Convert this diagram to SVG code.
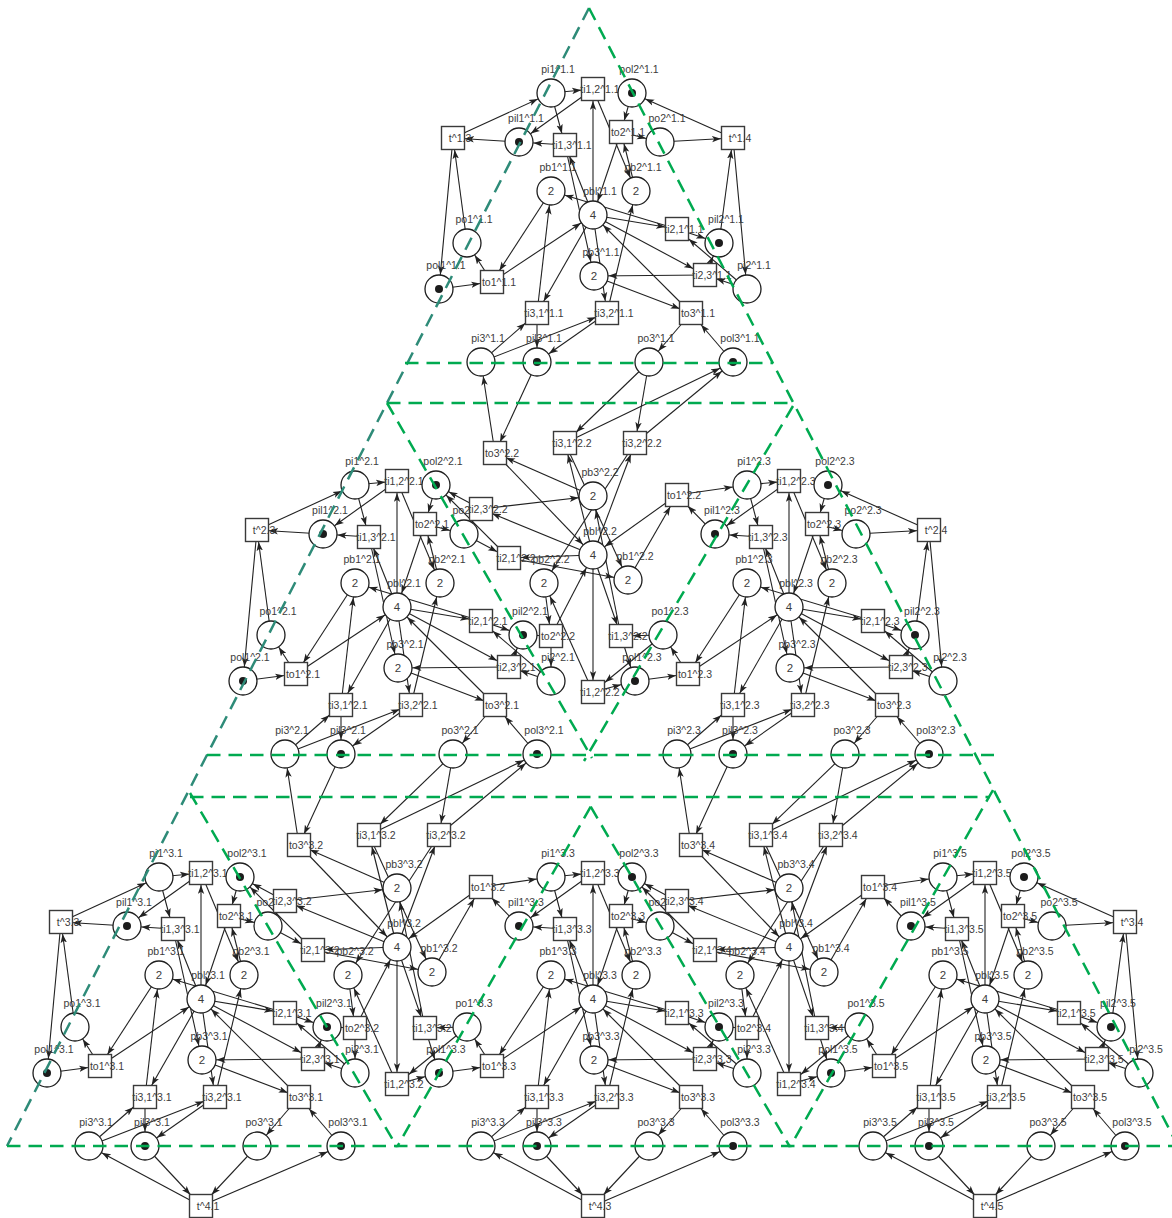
<svg xmlns="http://www.w3.org/2000/svg" width="1172" height="1218" viewBox="0 0 1172 1218">
<style>
text{font:10.5px "Liberation Sans",Arial,sans-serif;fill:#3c3c3c;text-anchor:middle}
.n circle{fill:#fff;stroke:#1e1e1e;stroke-width:1.3}
#q{fill:#fff;stroke:#3a3a3a;stroke-width:1.4}
.n circle.k{fill:#1c1c1c;stroke:none}
.pl{transform:translate(7px,-20px)}
.tl{transform:translate(7px,4px)}
.v{font-size:11.5px;transform:translate(0,4px)}
.c path,.s1 path,.s2 path,.s3 path{fill:none;stroke:#222;stroke-width:1.1}
.c{marker-end:url(#mc)}
.s1{marker-end:url(#ms1)}
.s2{marker-end:url(#ms2)}
.s3{marker-end:url(#ms3)}
.dash path{fill:none;stroke:#00aa50;stroke-width:2.5;stroke-dasharray:13.5 8}
.dash path.teal{stroke:#2e8b78}
.h{fill:#222;stroke:none}
</style>
<defs>
<marker id="mc" markerUnits="userSpaceOnUse" markerWidth="9" markerHeight="7" refX="23.5" refY="3.5" orient="auto"><path class="h" d="M0 .3L9 3.5L0 6.7L2.2 3.5z"/></marker>
<marker id="ms1" markerUnits="userSpaceOnUse" markerWidth="9" markerHeight="7" refX="21" refY="3.5" orient="auto"><path class="h" d="M0 .3L9 3.5L0 6.7L2.2 3.5z"/></marker>
<marker id="ms2" markerUnits="userSpaceOnUse" markerWidth="9" markerHeight="7" refX="22.5" refY="3.5" orient="auto"><path class="h" d="M0 .3L9 3.5L0 6.7L2.2 3.5z"/></marker>
<marker id="ms3" markerUnits="userSpaceOnUse" markerWidth="9" markerHeight="7" refX="24.5" refY="3.5" orient="auto"><path class="h" d="M0 .3L9 3.5L0 6.7L2.2 3.5z"/></marker>
<rect id="q" x="-11.5" y="-11.5" width="23" height="23"/>
<g id="up">
<g class="s1"><path d="M551 93L593 89"/><path d="M551 93L565 145"/><path d="M632 93L621 132"/><path d="M636 191L621 132"/><path d="M593 215L593 89"/><path d="M593 215L565 145"/><path d="M439 289L492 282"/><path d="M593 215L677 229"/><path d="M747 289L705 275"/><path d="M593 215L607 313"/><path d="M481 362L607 313"/><path d="M594 276L691 313"/></g>
<g class="s2"><path d="M551 191L492 282"/><path d="M593 215L705 275"/><path d="M593 215L537 313"/></g>
<g class="s3"><path d="M747 289L677 229"/><path d="M481 362L537 313"/><path d="M733 362L691 313"/></g>
<g class="c"><path d="M593 89L519 142"/><path d="M565 145L519 142"/><path d="M621 132L660 142"/><path d="M593 89L636 191"/><path d="M621 132L593 215"/><path d="M537 313L551 191"/><path d="M677 229L551 191"/><path d="M565 145L594 276"/><path d="M705 275L594 276"/><path d="M607 313L636 191"/><path d="M492 282L593 215"/><path d="M492 282L467 243"/><path d="M677 229L719 243"/><path d="M705 275L719 243"/><path d="M691 313L593 215"/><path d="M537 313L537 362"/><path d="M607 313L537 362"/><path d="M691 313L649 362"/></g>
</g>
<g id="inv">
<g class="s1"><path d="M537 362L495 453"/><path d="M649 362L635 443"/><path d="M593 496L495 453"/><path d="M593 555L565 443"/><path d="M593 555L635 443"/><path d="M593 555L481 509"/><path d="M593 555L509 558"/><path d="M523 635L551 636"/><path d="M544 583L551 636"/><path d="M663 635L621 636"/><path d="M593 555L621 636"/><path d="M593 555L593 692"/></g>
<g class="s2"><path d="M628 580L677 495"/><path d="M464 534L481 509"/><path d="M464 534L509 558"/></g>
<g class="s3"><path d="M649 362L565 443"/><path d="M715 534L677 495"/><path d="M663 635L593 692"/></g>
<g class="c"><path d="M495 453L481 362"/><path d="M565 443L733 362"/><path d="M635 443L733 362"/><path d="M495 453L593 555"/><path d="M565 443L628 580"/><path d="M635 443L544 583"/><path d="M677 495L747 485"/><path d="M677 495L593 555"/><path d="M481 509L436 485"/><path d="M481 509L593 496"/><path d="M509 558L436 485"/><path d="M509 558L628 580"/><path d="M551 636L551 681"/><path d="M551 636L593 555"/><path d="M621 636L635 681"/><path d="M621 636L593 496"/><path d="M593 692L635 681"/><path d="M593 692L544 583"/></g>
</g>
<g id="tl"><g class="s1"><path d="M519 142L453 138"/><path d="M467 243L453 138"/></g><g class="c"><path d="M453 138L551 93"/><path d="M453 138L439 289"/></g></g>
<g id="tr"><g class="s1"><path d="M719 243L733 138"/><path d="M660 142L733 138"/></g><g class="c"><path d="M733 138L632 93"/><path d="M733 138L747 289"/></g></g>
<g id="tb"><g class="s3"><path d="M145 1146L201 1206"/><path d="M257 1146L201 1206"/></g><g class="c"><path d="M201 1206L89 1146"/><path d="M201 1206L341 1146"/></g></g>
</defs>
<g id="connectors">
<use href="#up"/><use href="#up" x="-196" y="392"/><use href="#up" x="196" y="392"/><use href="#up" x="-392" y="784"/><use href="#up" y="784"/><use href="#up" x="392" y="784"/>
<use href="#inv"/><use href="#inv" x="-196" y="392"/><use href="#inv" x="196" y="392"/>
<use href="#tl"/><use href="#tl" x="-196" y="392"/><use href="#tl" x="-392" y="784"/>
<use href="#tr"/><use href="#tr" x="196" y="392"/><use href="#tr" x="392" y="784"/>
<use href="#tb"/><use href="#tb" x="392"/><use href="#tb" x="784"/>
</g>
<g id="nodes" class="n">
<g id="module-1.1">
<g id="pi1-1.1" transform="translate(551 93)"><circle r="14"/><text class="pl">pi1^1.1</text></g>
<g id="ti12-1.1" transform="translate(593 89)"><use href="#q"/><text class="tl">ti1,2^1.1</text></g>
<g id="pol2-1.1" transform="translate(632 93)"><circle r="14"/><circle class="k" r="4"/><text class="pl">pol2^1.1</text></g>
<g id="pil1-1.1" transform="translate(519 142)"><circle r="14"/><circle class="k" r="4"/><text class="pl">pil1^1.1</text></g>
<g id="ti13-1.1" transform="translate(565 145)"><use href="#q"/><text class="tl">ti1,3^1.1</text></g>
<g id="to2-1.1" transform="translate(621 132)"><use href="#q"/><text class="tl">to2^1.1</text></g>
<g id="po2-1.1" transform="translate(660 142)"><circle r="14"/><text class="pl">po2^1.1</text></g>
<g id="pb1-1.1" transform="translate(551 191)"><circle r="14"/><text class="v">2</text><text class="pl">pb1^1.1</text></g>
<g id="pb2-1.1" transform="translate(636 191)"><circle r="14"/><text class="v">2</text><text class="pl">pb2^1.1</text></g>
<g id="pbl-1.1" transform="translate(593 215)"><circle r="14"/><text class="v">4</text><text class="pl">pbl^1.1</text></g>
<g id="po1-1.1" transform="translate(467 243)"><circle r="14"/><text class="pl">po1^1.1</text></g>
<g id="pol1-1.1" transform="translate(439 289)"><circle r="14"/><circle class="k" r="4"/><text class="pl">pol1^1.1</text></g>
<g id="to1-1.1" transform="translate(492 282)"><use href="#q"/><text class="tl">to1^1.1</text></g>
<g id="pb3-1.1" transform="translate(594 276)"><circle r="14"/><text class="v">2</text><text class="pl">pb3^1.1</text></g>
<g id="ti21-1.1" transform="translate(677 229)"><use href="#q"/><text class="tl">ti2,1^1.1</text></g>
<g id="pil2-1.1" transform="translate(719 243)"><circle r="14"/><circle class="k" r="4"/><text class="pl">pil2^1.1</text></g>
<g id="ti23-1.1" transform="translate(705 275)"><use href="#q"/><text class="tl">ti2,3^1.1</text></g>
<g id="pi2-1.1" transform="translate(747 289)"><circle r="14"/><text class="pl">pi2^1.1</text></g>
<g id="ti31-1.1" transform="translate(537 313)"><use href="#q"/><text class="tl">ti3,1^1.1</text></g>
<g id="ti32-1.1" transform="translate(607 313)"><use href="#q"/><text class="tl">ti3,2^1.1</text></g>
<g id="to3-1.1" transform="translate(691 313)"><use href="#q"/><text class="tl">to3^1.1</text></g>
<g id="pi3-1.1" transform="translate(481 362)"><circle r="14"/><text class="pl">pi3^1.1</text></g>
<g id="pil3-1.1" transform="translate(537 362)"><circle r="14"/><circle class="k" r="4"/><text class="pl">pil3^1.1</text></g>
<g id="po3-1.1" transform="translate(649 362)"><circle r="14"/><text class="pl">po3^1.1</text></g>
<g id="pol3-1.1" transform="translate(733 362)"><circle r="14"/><circle class="k" r="4"/><text class="pl">pol3^1.1</text></g>
</g>
<g id="module-2.1" transform="translate(-196 392)">
<g id="pi1-2.1" transform="translate(551 93)"><circle r="14"/><text class="pl">pi1^2.1</text></g>
<g id="ti12-2.1" transform="translate(593 89)"><use href="#q"/><text class="tl">ti1,2^2.1</text></g>
<g id="pol2-2.1" transform="translate(632 93)"><circle r="14"/><circle class="k" r="4"/><text class="pl">pol2^2.1</text></g>
<g id="pil1-2.1" transform="translate(519 142)"><circle r="14"/><circle class="k" r="4"/><text class="pl">pil1^2.1</text></g>
<g id="ti13-2.1" transform="translate(565 145)"><use href="#q"/><text class="tl">ti1,3^2.1</text></g>
<g id="to2-2.1" transform="translate(621 132)"><use href="#q"/><text class="tl">to2^2.1</text></g>
<g id="po2-2.1" transform="translate(660 142)"><circle r="14"/><text class="pl">po2^2.1</text></g>
<g id="pb1-2.1" transform="translate(551 191)"><circle r="14"/><text class="v">2</text><text class="pl">pb1^2.1</text></g>
<g id="pb2-2.1" transform="translate(636 191)"><circle r="14"/><text class="v">2</text><text class="pl">pb2^2.1</text></g>
<g id="pbl-2.1" transform="translate(593 215)"><circle r="14"/><text class="v">4</text><text class="pl">pbl^2.1</text></g>
<g id="po1-2.1" transform="translate(467 243)"><circle r="14"/><text class="pl">po1^2.1</text></g>
<g id="pol1-2.1" transform="translate(439 289)"><circle r="14"/><circle class="k" r="4"/><text class="pl">pol1^2.1</text></g>
<g id="to1-2.1" transform="translate(492 282)"><use href="#q"/><text class="tl">to1^2.1</text></g>
<g id="pb3-2.1" transform="translate(594 276)"><circle r="14"/><text class="v">2</text><text class="pl">pb3^2.1</text></g>
<g id="ti21-2.1" transform="translate(677 229)"><use href="#q"/><text class="tl">ti2,1^2.1</text></g>
<g id="pil2-2.1" transform="translate(719 243)"><circle r="14"/><circle class="k" r="4"/><text class="pl">pil2^2.1</text></g>
<g id="ti23-2.1" transform="translate(705 275)"><use href="#q"/><text class="tl">ti2,3^2.1</text></g>
<g id="pi2-2.1" transform="translate(747 289)"><circle r="14"/><text class="pl">pi2^2.1</text></g>
<g id="ti31-2.1" transform="translate(537 313)"><use href="#q"/><text class="tl">ti3,1^2.1</text></g>
<g id="ti32-2.1" transform="translate(607 313)"><use href="#q"/><text class="tl">ti3,2^2.1</text></g>
<g id="to3-2.1" transform="translate(691 313)"><use href="#q"/><text class="tl">to3^2.1</text></g>
<g id="pi3-2.1" transform="translate(481 362)"><circle r="14"/><text class="pl">pi3^2.1</text></g>
<g id="pil3-2.1" transform="translate(537 362)"><circle r="14"/><circle class="k" r="4"/><text class="pl">pil3^2.1</text></g>
<g id="po3-2.1" transform="translate(649 362)"><circle r="14"/><text class="pl">po3^2.1</text></g>
<g id="pol3-2.1" transform="translate(733 362)"><circle r="14"/><circle class="k" r="4"/><text class="pl">pol3^2.1</text></g>
</g>
<g id="module-2.3" transform="translate(196 392)">
<g id="pi1-2.3" transform="translate(551 93)"><circle r="14"/><text class="pl">pi1^2.3</text></g>
<g id="ti12-2.3" transform="translate(593 89)"><use href="#q"/><text class="tl">ti1,2^2.3</text></g>
<g id="pol2-2.3" transform="translate(632 93)"><circle r="14"/><circle class="k" r="4"/><text class="pl">pol2^2.3</text></g>
<g id="pil1-2.3" transform="translate(519 142)"><circle r="14"/><circle class="k" r="4"/><text class="pl">pil1^2.3</text></g>
<g id="ti13-2.3" transform="translate(565 145)"><use href="#q"/><text class="tl">ti1,3^2.3</text></g>
<g id="to2-2.3" transform="translate(621 132)"><use href="#q"/><text class="tl">to2^2.3</text></g>
<g id="po2-2.3" transform="translate(660 142)"><circle r="14"/><text class="pl">po2^2.3</text></g>
<g id="pb1-2.3" transform="translate(551 191)"><circle r="14"/><text class="v">2</text><text class="pl">pb1^2.3</text></g>
<g id="pb2-2.3" transform="translate(636 191)"><circle r="14"/><text class="v">2</text><text class="pl">pb2^2.3</text></g>
<g id="pbl-2.3" transform="translate(593 215)"><circle r="14"/><text class="v">4</text><text class="pl">pbl^2.3</text></g>
<g id="po1-2.3" transform="translate(467 243)"><circle r="14"/><text class="pl">po1^2.3</text></g>
<g id="pol1-2.3" transform="translate(439 289)"><circle r="14"/><circle class="k" r="4"/><text class="pl">pol1^2.3</text></g>
<g id="to1-2.3" transform="translate(492 282)"><use href="#q"/><text class="tl">to1^2.3</text></g>
<g id="pb3-2.3" transform="translate(594 276)"><circle r="14"/><text class="v">2</text><text class="pl">pb3^2.3</text></g>
<g id="ti21-2.3" transform="translate(677 229)"><use href="#q"/><text class="tl">ti2,1^2.3</text></g>
<g id="pil2-2.3" transform="translate(719 243)"><circle r="14"/><circle class="k" r="4"/><text class="pl">pil2^2.3</text></g>
<g id="ti23-2.3" transform="translate(705 275)"><use href="#q"/><text class="tl">ti2,3^2.3</text></g>
<g id="pi2-2.3" transform="translate(747 289)"><circle r="14"/><text class="pl">pi2^2.3</text></g>
<g id="ti31-2.3" transform="translate(537 313)"><use href="#q"/><text class="tl">ti3,1^2.3</text></g>
<g id="ti32-2.3" transform="translate(607 313)"><use href="#q"/><text class="tl">ti3,2^2.3</text></g>
<g id="to3-2.3" transform="translate(691 313)"><use href="#q"/><text class="tl">to3^2.3</text></g>
<g id="pi3-2.3" transform="translate(481 362)"><circle r="14"/><text class="pl">pi3^2.3</text></g>
<g id="pil3-2.3" transform="translate(537 362)"><circle r="14"/><circle class="k" r="4"/><text class="pl">pil3^2.3</text></g>
<g id="po3-2.3" transform="translate(649 362)"><circle r="14"/><text class="pl">po3^2.3</text></g>
<g id="pol3-2.3" transform="translate(733 362)"><circle r="14"/><circle class="k" r="4"/><text class="pl">pol3^2.3</text></g>
</g>
<g id="module-3.1" transform="translate(-392 784)">
<g id="pi1-3.1" transform="translate(551 93)"><circle r="14"/><text class="pl">pi1^3.1</text></g>
<g id="ti12-3.1" transform="translate(593 89)"><use href="#q"/><text class="tl">ti1,2^3.1</text></g>
<g id="pol2-3.1" transform="translate(632 93)"><circle r="14"/><circle class="k" r="4"/><text class="pl">pol2^3.1</text></g>
<g id="pil1-3.1" transform="translate(519 142)"><circle r="14"/><circle class="k" r="4"/><text class="pl">pil1^3.1</text></g>
<g id="ti13-3.1" transform="translate(565 145)"><use href="#q"/><text class="tl">ti1,3^3.1</text></g>
<g id="to2-3.1" transform="translate(621 132)"><use href="#q"/><text class="tl">to2^3.1</text></g>
<g id="po2-3.1" transform="translate(660 142)"><circle r="14"/><text class="pl">po2^3.1</text></g>
<g id="pb1-3.1" transform="translate(551 191)"><circle r="14"/><text class="v">2</text><text class="pl">pb1^3.1</text></g>
<g id="pb2-3.1" transform="translate(636 191)"><circle r="14"/><text class="v">2</text><text class="pl">pb2^3.1</text></g>
<g id="pbl-3.1" transform="translate(593 215)"><circle r="14"/><text class="v">4</text><text class="pl">pbl^3.1</text></g>
<g id="po1-3.1" transform="translate(467 243)"><circle r="14"/><text class="pl">po1^3.1</text></g>
<g id="pol1-3.1" transform="translate(439 289)"><circle r="14"/><circle class="k" r="4"/><text class="pl">pol1^3.1</text></g>
<g id="to1-3.1" transform="translate(492 282)"><use href="#q"/><text class="tl">to1^3.1</text></g>
<g id="pb3-3.1" transform="translate(594 276)"><circle r="14"/><text class="v">2</text><text class="pl">pb3^3.1</text></g>
<g id="ti21-3.1" transform="translate(677 229)"><use href="#q"/><text class="tl">ti2,1^3.1</text></g>
<g id="pil2-3.1" transform="translate(719 243)"><circle r="14"/><circle class="k" r="4"/><text class="pl">pil2^3.1</text></g>
<g id="ti23-3.1" transform="translate(705 275)"><use href="#q"/><text class="tl">ti2,3^3.1</text></g>
<g id="pi2-3.1" transform="translate(747 289)"><circle r="14"/><text class="pl">pi2^3.1</text></g>
<g id="ti31-3.1" transform="translate(537 313)"><use href="#q"/><text class="tl">ti3,1^3.1</text></g>
<g id="ti32-3.1" transform="translate(607 313)"><use href="#q"/><text class="tl">ti3,2^3.1</text></g>
<g id="to3-3.1" transform="translate(691 313)"><use href="#q"/><text class="tl">to3^3.1</text></g>
<g id="pi3-3.1" transform="translate(481 362)"><circle r="14"/><text class="pl">pi3^3.1</text></g>
<g id="pil3-3.1" transform="translate(537 362)"><circle r="14"/><circle class="k" r="4"/><text class="pl">pil3^3.1</text></g>
<g id="po3-3.1" transform="translate(649 362)"><circle r="14"/><text class="pl">po3^3.1</text></g>
<g id="pol3-3.1" transform="translate(733 362)"><circle r="14"/><circle class="k" r="4"/><text class="pl">pol3^3.1</text></g>
</g>
<g id="module-3.3" transform="translate(0 784)">
<g id="pi1-3.3" transform="translate(551 93)"><circle r="14"/><text class="pl">pi1^3.3</text></g>
<g id="ti12-3.3" transform="translate(593 89)"><use href="#q"/><text class="tl">ti1,2^3.3</text></g>
<g id="pol2-3.3" transform="translate(632 93)"><circle r="14"/><circle class="k" r="4"/><text class="pl">pol2^3.3</text></g>
<g id="pil1-3.3" transform="translate(519 142)"><circle r="14"/><circle class="k" r="4"/><text class="pl">pil1^3.3</text></g>
<g id="ti13-3.3" transform="translate(565 145)"><use href="#q"/><text class="tl">ti1,3^3.3</text></g>
<g id="to2-3.3" transform="translate(621 132)"><use href="#q"/><text class="tl">to2^3.3</text></g>
<g id="po2-3.3" transform="translate(660 142)"><circle r="14"/><text class="pl">po2^3.3</text></g>
<g id="pb1-3.3" transform="translate(551 191)"><circle r="14"/><text class="v">2</text><text class="pl">pb1^3.3</text></g>
<g id="pb2-3.3" transform="translate(636 191)"><circle r="14"/><text class="v">2</text><text class="pl">pb2^3.3</text></g>
<g id="pbl-3.3" transform="translate(593 215)"><circle r="14"/><text class="v">4</text><text class="pl">pbl^3.3</text></g>
<g id="po1-3.3" transform="translate(467 243)"><circle r="14"/><text class="pl">po1^3.3</text></g>
<g id="pol1-3.3" transform="translate(439 289)"><circle r="14"/><circle class="k" r="4"/><text class="pl">pol1^3.3</text></g>
<g id="to1-3.3" transform="translate(492 282)"><use href="#q"/><text class="tl">to1^3.3</text></g>
<g id="pb3-3.3" transform="translate(594 276)"><circle r="14"/><text class="v">2</text><text class="pl">pb3^3.3</text></g>
<g id="ti21-3.3" transform="translate(677 229)"><use href="#q"/><text class="tl">ti2,1^3.3</text></g>
<g id="pil2-3.3" transform="translate(719 243)"><circle r="14"/><circle class="k" r="4"/><text class="pl">pil2^3.3</text></g>
<g id="ti23-3.3" transform="translate(705 275)"><use href="#q"/><text class="tl">ti2,3^3.3</text></g>
<g id="pi2-3.3" transform="translate(747 289)"><circle r="14"/><text class="pl">pi2^3.3</text></g>
<g id="ti31-3.3" transform="translate(537 313)"><use href="#q"/><text class="tl">ti3,1^3.3</text></g>
<g id="ti32-3.3" transform="translate(607 313)"><use href="#q"/><text class="tl">ti3,2^3.3</text></g>
<g id="to3-3.3" transform="translate(691 313)"><use href="#q"/><text class="tl">to3^3.3</text></g>
<g id="pi3-3.3" transform="translate(481 362)"><circle r="14"/><text class="pl">pi3^3.3</text></g>
<g id="pil3-3.3" transform="translate(537 362)"><circle r="14"/><circle class="k" r="4"/><text class="pl">pil3^3.3</text></g>
<g id="po3-3.3" transform="translate(649 362)"><circle r="14"/><text class="pl">po3^3.3</text></g>
<g id="pol3-3.3" transform="translate(733 362)"><circle r="14"/><circle class="k" r="4"/><text class="pl">pol3^3.3</text></g>
</g>
<g id="module-3.5" transform="translate(392 784)">
<g id="pi1-3.5" transform="translate(551 93)"><circle r="14"/><text class="pl">pi1^3.5</text></g>
<g id="ti12-3.5" transform="translate(593 89)"><use href="#q"/><text class="tl">ti1,2^3.5</text></g>
<g id="pol2-3.5" transform="translate(632 93)"><circle r="14"/><circle class="k" r="4"/><text class="pl">pol2^3.5</text></g>
<g id="pil1-3.5" transform="translate(519 142)"><circle r="14"/><circle class="k" r="4"/><text class="pl">pil1^3.5</text></g>
<g id="ti13-3.5" transform="translate(565 145)"><use href="#q"/><text class="tl">ti1,3^3.5</text></g>
<g id="to2-3.5" transform="translate(621 132)"><use href="#q"/><text class="tl">to2^3.5</text></g>
<g id="po2-3.5" transform="translate(660 142)"><circle r="14"/><text class="pl">po2^3.5</text></g>
<g id="pb1-3.5" transform="translate(551 191)"><circle r="14"/><text class="v">2</text><text class="pl">pb1^3.5</text></g>
<g id="pb2-3.5" transform="translate(636 191)"><circle r="14"/><text class="v">2</text><text class="pl">pb2^3.5</text></g>
<g id="pbl-3.5" transform="translate(593 215)"><circle r="14"/><text class="v">4</text><text class="pl">pbl^3.5</text></g>
<g id="po1-3.5" transform="translate(467 243)"><circle r="14"/><text class="pl">po1^3.5</text></g>
<g id="pol1-3.5" transform="translate(439 289)"><circle r="14"/><circle class="k" r="4"/><text class="pl">pol1^3.5</text></g>
<g id="to1-3.5" transform="translate(492 282)"><use href="#q"/><text class="tl">to1^3.5</text></g>
<g id="pb3-3.5" transform="translate(594 276)"><circle r="14"/><text class="v">2</text><text class="pl">pb3^3.5</text></g>
<g id="ti21-3.5" transform="translate(677 229)"><use href="#q"/><text class="tl">ti2,1^3.5</text></g>
<g id="pil2-3.5" transform="translate(719 243)"><circle r="14"/><circle class="k" r="4"/><text class="pl">pil2^3.5</text></g>
<g id="ti23-3.5" transform="translate(705 275)"><use href="#q"/><text class="tl">ti2,3^3.5</text></g>
<g id="pi2-3.5" transform="translate(747 289)"><circle r="14"/><text class="pl">pi2^3.5</text></g>
<g id="ti31-3.5" transform="translate(537 313)"><use href="#q"/><text class="tl">ti3,1^3.5</text></g>
<g id="ti32-3.5" transform="translate(607 313)"><use href="#q"/><text class="tl">ti3,2^3.5</text></g>
<g id="to3-3.5" transform="translate(691 313)"><use href="#q"/><text class="tl">to3^3.5</text></g>
<g id="pi3-3.5" transform="translate(481 362)"><circle r="14"/><text class="pl">pi3^3.5</text></g>
<g id="pil3-3.5" transform="translate(537 362)"><circle r="14"/><circle class="k" r="4"/><text class="pl">pil3^3.5</text></g>
<g id="po3-3.5" transform="translate(649 362)"><circle r="14"/><text class="pl">po3^3.5</text></g>
<g id="pol3-3.5" transform="translate(733 362)"><circle r="14"/><circle class="k" r="4"/><text class="pl">pol3^3.5</text></g>
</g>
<g id="module-2.2">
<g id="to3-2.2" transform="translate(495 453)"><use href="#q"/><text class="tl">to3^2.2</text></g>
<g id="ti31-2.2" transform="translate(565 443)"><use href="#q"/><text class="tl">ti3,1^2.2</text></g>
<g id="ti32-2.2" transform="translate(635 443)"><use href="#q"/><text class="tl">ti3,2^2.2</text></g>
<g id="pb3-2.2" transform="translate(593 496)"><circle r="14"/><text class="v">2</text><text class="pl">pb3^2.2</text></g>
<g id="ti23-2.2" transform="translate(481 509)"><use href="#q"/><text class="tl">ti2,3^2.2</text></g>
<g id="to1-2.2" transform="translate(677 495)"><use href="#q"/><text class="tl">to1^2.2</text></g>
<g id="pbl-2.2" transform="translate(593 555)"><circle r="14"/><text class="v">4</text><text class="pl">pbl^2.2</text></g>
<g id="ti21-2.2" transform="translate(509 558)"><use href="#q"/><text class="tl">ti2,1^2.2</text></g>
<g id="pb2-2.2" transform="translate(544 583)"><circle r="14"/><text class="v">2</text><text class="pl">pb2^2.2</text></g>
<g id="pb1-2.2" transform="translate(628 580)"><circle r="14"/><text class="v">2</text><text class="pl">pb1^2.2</text></g>
<g id="to2-2.2" transform="translate(551 636)"><use href="#q"/><text class="tl">to2^2.2</text></g>
<g id="ti13-2.2" transform="translate(621 636)"><use href="#q"/><text class="tl">ti1,3^2.2</text></g>
<g id="ti12-2.2" transform="translate(593 692)"><use href="#q"/><text class="tl">ti1,2^2.2</text></g>
</g>
<g id="module-3.2" transform="translate(-196 392)">
<g id="to3-3.2" transform="translate(495 453)"><use href="#q"/><text class="tl">to3^3.2</text></g>
<g id="ti31-3.2" transform="translate(565 443)"><use href="#q"/><text class="tl">ti3,1^3.2</text></g>
<g id="ti32-3.2" transform="translate(635 443)"><use href="#q"/><text class="tl">ti3,2^3.2</text></g>
<g id="pb3-3.2" transform="translate(593 496)"><circle r="14"/><text class="v">2</text><text class="pl">pb3^3.2</text></g>
<g id="ti23-3.2" transform="translate(481 509)"><use href="#q"/><text class="tl">ti2,3^3.2</text></g>
<g id="to1-3.2" transform="translate(677 495)"><use href="#q"/><text class="tl">to1^3.2</text></g>
<g id="pbl-3.2" transform="translate(593 555)"><circle r="14"/><text class="v">4</text><text class="pl">pbl^3.2</text></g>
<g id="ti21-3.2" transform="translate(509 558)"><use href="#q"/><text class="tl">ti2,1^3.2</text></g>
<g id="pb2-3.2" transform="translate(544 583)"><circle r="14"/><text class="v">2</text><text class="pl">pb2^3.2</text></g>
<g id="pb1-3.2" transform="translate(628 580)"><circle r="14"/><text class="v">2</text><text class="pl">pb1^3.2</text></g>
<g id="to2-3.2" transform="translate(551 636)"><use href="#q"/><text class="tl">to2^3.2</text></g>
<g id="ti13-3.2" transform="translate(621 636)"><use href="#q"/><text class="tl">ti1,3^3.2</text></g>
<g id="ti12-3.2" transform="translate(593 692)"><use href="#q"/><text class="tl">ti1,2^3.2</text></g>
</g>
<g id="module-3.4" transform="translate(196 392)">
<g id="to3-3.4" transform="translate(495 453)"><use href="#q"/><text class="tl">to3^3.4</text></g>
<g id="ti31-3.4" transform="translate(565 443)"><use href="#q"/><text class="tl">ti3,1^3.4</text></g>
<g id="ti32-3.4" transform="translate(635 443)"><use href="#q"/><text class="tl">ti3,2^3.4</text></g>
<g id="pb3-3.4" transform="translate(593 496)"><circle r="14"/><text class="v">2</text><text class="pl">pb3^3.4</text></g>
<g id="ti23-3.4" transform="translate(481 509)"><use href="#q"/><text class="tl">ti2,3^3.4</text></g>
<g id="to1-3.4" transform="translate(677 495)"><use href="#q"/><text class="tl">to1^3.4</text></g>
<g id="pbl-3.4" transform="translate(593 555)"><circle r="14"/><text class="v">4</text><text class="pl">pbl^3.4</text></g>
<g id="ti21-3.4" transform="translate(509 558)"><use href="#q"/><text class="tl">ti2,1^3.4</text></g>
<g id="pb2-3.4" transform="translate(544 583)"><circle r="14"/><text class="v">2</text><text class="pl">pb2^3.4</text></g>
<g id="pb1-3.4" transform="translate(628 580)"><circle r="14"/><text class="v">2</text><text class="pl">pb1^3.4</text></g>
<g id="to2-3.4" transform="translate(551 636)"><use href="#q"/><text class="tl">to2^3.4</text></g>
<g id="ti13-3.4" transform="translate(621 636)"><use href="#q"/><text class="tl">ti1,3^3.4</text></g>
<g id="ti12-3.4" transform="translate(593 692)"><use href="#q"/><text class="tl">ti1,2^3.4</text></g>
</g>
<g id="t-1.3" transform="translate(453 138)"><use href="#q"/><text class="tl">t^1.3</text></g>
<g id="t-1.4" transform="translate(733 138)"><use href="#q"/><text class="tl">t^1.4</text></g>
<g id="t-2.3" transform="translate(257 530)"><use href="#q"/><text class="tl">t^2.3</text></g>
<g id="t-2.4" transform="translate(929 530)"><use href="#q"/><text class="tl">t^2.4</text></g>
<g id="t-3.3" transform="translate(61 922)"><use href="#q"/><text class="tl">t^3.3</text></g>
<g id="t-3.4" transform="translate(1125 922)"><use href="#q"/><text class="tl">t^3.4</text></g>
<g id="t-4.1" transform="translate(201 1206)"><use href="#q"/><text class="tl">t^4.1</text></g>
<g id="t-4.3" transform="translate(593 1206)"><use href="#q"/><text class="tl">t^4.3</text></g>
<g id="t-4.5" transform="translate(985 1206)"><use href="#q"/><text class="tl">t^4.5</text></g>
</g>
<g id="dashes" class="dash">
<path class="teal" d="M589 8L7 1146"/>
<path d="M589 8L1178 1146"/>
<path d="M405 363H773"/>
<path d="M387 403H792"/>
<path d="M207 755H994"/>
<path d="M190 797H990"/>
<path d="M7 1146H1172"/>
<path d="M387 403L592 758"/>
<path d="M793 406L584 761"/>
<path d="M190 793L397 1147"/>
<path d="M590.7 806.7L397 1147"/>
<path d="M590.7 806.7L790 1147"/>
<path d="M993 790L790 1147"/>
</g>
</svg>
